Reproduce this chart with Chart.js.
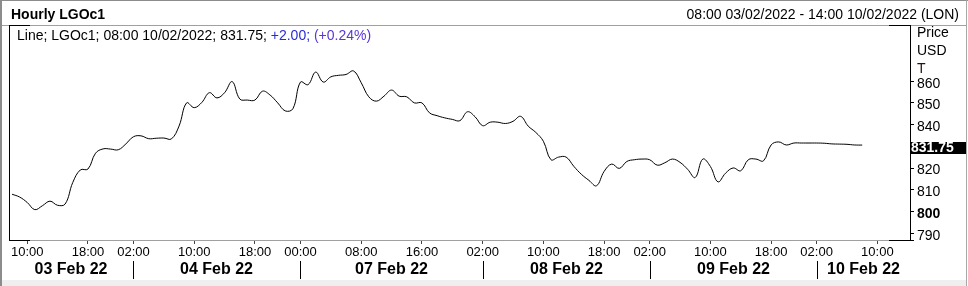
<!DOCTYPE html>
<html><head><meta charset="utf-8">
<script src="https://cdn.jsdelivr.net/npm/chart.js@4.4.1/dist/chart.umd.min.js"></script>
<style>html,body{margin:0;padding:0;background:#fff;}canvas{display:block;}</style>
</head><body>
<canvas id="c" width="968" height="286"></canvas>
<script>
// Hourly LGOc1 closes, 08:00 03/02/2022 .. 08:00 10/02/2022 (trading hours only)
const prices = [
 809.1, 807.8, 805.3, 802.0, 803.8, 805.9, 804.0, 804.6, 814.5, 820.3,
 820.7, 828.0, 830.0, 829.9, 829.6, 832.3, 835.6, 836.0, 834.7, 834.9,
 835.0, 834.6, 840.5, 851.2, 849.0, 851.4, 855.9, 853.5, 855.9, 861.0,
 853.0, 852.5, 852.5, 856.6, 854.8, 851.2, 847.5, 848.5, 860.8, 859.6,
 865.4, 860.8, 863.2, 863.9, 864.3, 865.9, 860.5, 854.0, 852.0, 854.3,
 857.1, 854.3, 854.0, 851.2, 851.2, 846.6, 845.3, 844.3, 843.6, 843.0,
 847.1, 844.8, 840.7, 842.3, 842.3, 841.7, 842.7, 845.0, 840.5, 837.6,
 833.5, 825.0, 826.2, 826.2, 822.0, 818.3, 815.5, 813.0, 819.6, 823.0,
 821.0, 824.2, 825.0, 825.3, 825.0, 822.5, 823.6, 825.3, 823.8, 820.6,
 816.8, 825.3, 821.9, 814.8, 818.8, 821.2, 819.9, 825.0, 825.3, 824.5,
 831.8, 833.2, 831.8, 832.7, 832.7, 832.7, 832.7, 832.6, 832.3, 832.2,
 832.1, 831.8, 831.75
];
const tickIndex  = [2, 10, 16, 24, 32, 38, 46, 54, 62, 70, 78, 84, 92, 100, 106, 114];
const tickLabels = ['10:00','18:00','02:00','10:00','18:00','00:00','08:00','16:00','02:00','10:00','18:00','02:00','10:00','18:00','02:00','10:00'];
const yTicks = [790, 800, 810, 820, 830, 840, 850, 860];
const dayStartIndex = [16, 38, 62, 84, 106];
const dayLabels = ['03 Feb 22','04 Feb 22','07 Feb 22','08 Feb 22','09 Feb 22','10 Feb 22'];
const lastValue = 831.75;
const lastLabel = '831.75';
const titleText = 'Hourly LGOc1';
const rangeText = '08:00 03/02/2022 - 14:00 10/02/2022 (LON)';
const legendParts = [
  ['Line; LGOc1; 08:00 10/02/2022; 831.75; ', '#000000'],
  ['+2.00; ', '#2a2ad8'],
  ['(+0.24%)', '#5a35d8']
];
const axisUnits = ['Price', 'USD', 'T'];

const FONT = '"Liberation Sans", Arial, sans-serif';
const W = 968, H = 286, L = 9, R = 910, T = 25, B = 240;

const frame = {
  id: 'frame',
  beforeDraw(chart) {
    const c = chart.ctx;
    c.save();
    c.fillStyle = '#fff'; c.fillRect(0, 0, W, H);
    c.fillStyle = '#efefef'; c.fillRect(2, 280, W - 4, 6);
    c.restore();
  },
  afterDraw(chart) {
    const c = chart.ctx, xs = chart.scales.x, ys = chart.scales.y;
    c.save();
    // outer frame
    c.fillStyle = '#8c8c8c';
    c.fillRect(0, 0, 2, H);
    c.fillRect(0, 0, W, 1);
    c.fillStyle = '#a8a8a8';
    c.fillRect(966, 0, 1, H);
    // header separator and plot bottom line
    c.fillStyle = '#a0a0a0';
    c.fillRect(2, T, 964, 1);
    c.fillRect(L, B, R - L, 1);
    // plot frame black parts
    c.fillStyle = '#000';
    c.fillRect(L, T, 1, B - T + 1);
    c.fillRect(R, T, 1, B - T + 1);
    c.fillRect(L, T, 21, 1);
    c.fillRect(R - 21, T, 21, 1);
    c.fillRect(L, B, 21, 1);
    c.fillRect(R - 21, B, 25, 1);
    // y tick marks
    yTicks.forEach(v => {
      if (v === 830) return;
      const py = Math.round(ys.getPixelForValue(v)) - 3;
      c.fillRect(R, py, 4, 1);
    });
    // header texts
    c.textBaseline = 'middle';
    c.fillStyle = '#000';
    c.font = 'bold 14px ' + FONT;
    c.textAlign = 'left';
    c.fillText(titleText, 11, 15);
    c.font = '14px ' + FONT;
    c.textAlign = 'right';
    c.fillText(rangeText, 959, 15);
    // legend
    c.textAlign = 'left';
    let lx = 17;
    legendParts.forEach(([t, col]) => {
      c.fillStyle = col;
      c.fillText(t, lx, 36.5);
      lx += c.measureText(t).width;
    });
    // axis units
    c.fillStyle = '#000';
    c.fillText(axisUnits[0], 917, 33.5);
    c.fillText(axisUnits[1], 917, 51);
    c.fillStyle = '#2a1010';
    c.fillText(axisUnits[2], 917, 69);
    // last value box
    const py = ys.getPixelForValue(lastValue);
    c.fillStyle = '#000';
    c.fillRect(R, Math.round(py - 3.5), 56, 12);
    c.fillStyle = '#fff';
    c.font = 'bold 14px ' + FONT;
    c.fillText(lastLabel, 911, py + 2.8);
    // day separators and labels
    c.fillStyle = '#000';
    const edges = [L].concat(dayStartIndex.map(i => Math.round(xs.getPixelForValue(i)))).concat([R]);
    dayStartIndex.forEach((i, k) => {
      c.fillRect(edges[k + 1], 261, 1, 18);
    });
    c.font = 'bold 16px ' + FONT;
    c.textAlign = 'center';
    dayLabels.forEach((t, k) => {
      c.fillText(t, (edges[k] + edges[k + 1]) / 2, 269.5);
    });
    c.restore();
  }
};

new Chart(document.getElementById('c').getContext('2d'), {
  type: 'line',
  data: {
    datasets: [{
      data: prices.map((v, i) => ({ x: i, y: v })),
      borderColor: '#000',
      borderWidth: 1,
      pointRadius: 0,
      tension: 0.4,
      fill: false
    }]
  },
  options: {
    responsive: false,
    animation: false,
    events: [],
    layout: { padding: { left: L, top: T, right: 0, bottom: 0 } },
    plugins: { legend: { display: false }, tooltip: { enabled: false } },
    scales: {
      x: {
        type: 'linear', position: 'bottom', min: -0.4, max: 118.3,
        afterBuildTicks: s => { s.ticks = tickIndex.map(v => ({ value: v })); },
        afterFit: s => { s.height = H - B; s.paddingLeft = 0; s.paddingRight = 0; },
        ticks: {
          autoSkip: false, maxRotation: 0, minRotation: 0, padding: 1, color: '#000',
          font: { family: FONT, size: 13 },
          callback: v => { const k = tickIndex.indexOf(v); return k >= 0 ? tickLabels[k] : ''; }
        },
        grid: { drawOnChartArea: false, drawTicks: true, tickLength: 4, tickColor: '#444' },
        border: { display: false }
      },
      y: {
        type: 'linear', position: 'right', min: 788, max: 887.1,
        afterBuildTicks: s => { s.ticks = yTicks.map(v => ({ value: v })); },
        afterFit: s => { s.width = W - R; s.paddingTop = 0; s.paddingBottom = 0; },
        ticks: {
          padding: 7, color: '#000',
          font: c => ({ family: FONT, size: 14, weight: (c.tick && c.tick.value === 800) ? 'bold' : 'normal' }),
          callback: v => String(v)
        },
        grid: { display: false, drawTicks: false },
        border: { display: false }
      }
    }
  },
  plugins: [frame]
});
</script>
</body></html>
